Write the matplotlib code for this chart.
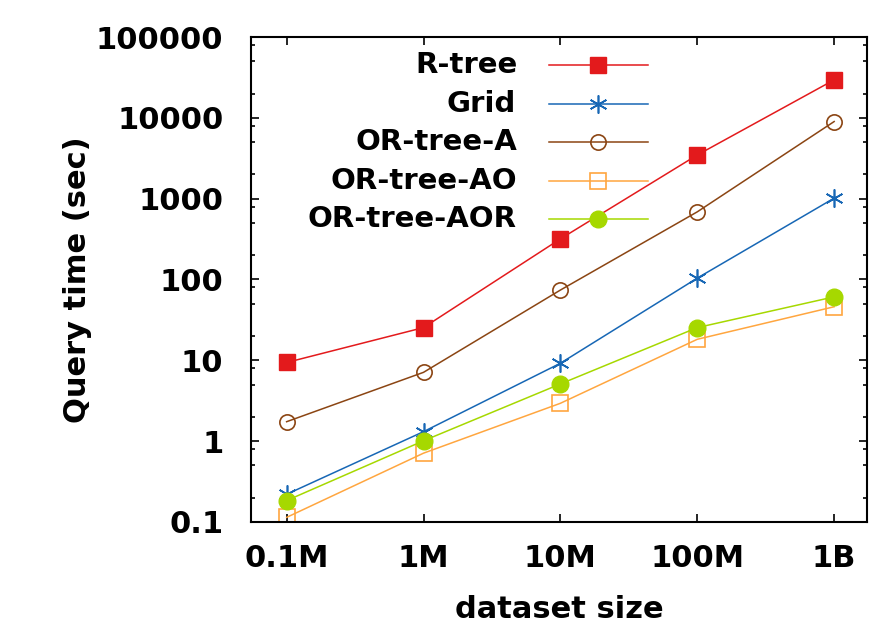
import matplotlib
matplotlib.use("Agg")
import matplotlib.pyplot as plt
from matplotlib.ticker import LogLocator, NullFormatter, FixedLocator
import numpy as np

plt.rcParams['font.family'] = ['DejaVu Sans']
plt.rcParams['font.weight'] = 'bold'
plt.rcParams['axes.labelweight'] = 'bold'

sizes = ["0.1M", "1M", "10M", "100M", "1B"]
names = ["R-tree", "Grid", "OR-tree-A", "OR-tree-AO", "OR-tree-AOR"]
rtree = [9.4, 25.4, 318, 3470, 29500]
grid = [0.22, 1.31, 9.2, 104, 1015]
ortree_a = [1.74, 7.1, 74, 687, 9000]
ortree_ao = [0.114, 0.71, 2.94, 18.2, 46]
ortree_aor = [0.184, 1.01, 5.1, 25.4, 61]

x = np.arange(len(sizes))
FS = 22
LFS = 21

fig = plt.figure(figsize=(8.94, 6.35), dpi=100)
ax = fig.add_axes([0.2808, 0.178, 0.9698 - 0.2808, 0.9417 - 0.178])

ax.plot(x, rtree, color='#e31a1c', lw=1.1, marker='s', ms=11, mec='#e31a1c', label=names[0])
ax.plot(x, grid, color='#1767b5', lw=1.1, marker=(6, 2, 0), ms=13, mew=1.2, label=names[1])
ax.plot(x, ortree_a, color='#8b4513', lw=1.1, marker='o', ms=11, mfc='none', mew=1.2, label=names[2])
ax.plot(x, ortree_ao, color='#ffa63f', lw=1.1, marker='s', ms=11, mfc='none', mew=1.2, label=names[3])
ax.plot(x, ortree_aor, color='#a6d800', lw=1.1, marker='o', ms=12, label=names[4])

ax.set_yscale('log')
ax.set_ylim(0.1, 100000)
ax.set_xlim(-0.26, 4.24)
ax.set_xticks(x)
ax.set_xticklabels(sizes)
ax.yaxis.set_major_locator(FixedLocator([0.1, 1, 10, 100, 1000, 10000, 100000]))
ax.set_yticklabels(['0.1', '1', '10', '100', '1000', '10000', '100000'])
ax.yaxis.set_minor_locator(LogLocator(base=10, subs=[2, 5, 8]))
ax.yaxis.set_minor_formatter(NullFormatter())

for s in ax.spines.values():
    s.set_linewidth(1.5)
ax.tick_params(which='both', direction='in', top=True, right=True, width=1.2)
ax.tick_params(which='major', length=6, labelsize=FS)
ax.tick_params(axis='y', which='major', pad=20)
ax.tick_params(axis='x', which='major', pad=16)
ax.tick_params(which='minor', length=3)

ax.set_ylabel('Query time (sec)', fontsize=FS, fontweight='bold')
ax.yaxis.set_label_coords(-0.258, 0.5)
ax.set_xlabel('dataset size', fontsize=FS, fontweight='bold', va='top')
ax.xaxis.set_label_coords(0.5, -0.15)

# legend: handles on the right, labels right-aligned to the left of them
leg = ax.legend(loc='upper right', bbox_to_anchor=(0.6445, 0.966), frameon=False,
                markerfirst=False, handlelength=3.4, handletextpad=0,
                labelspacing=0.36, borderpad=0, borderaxespad=0,
                prop={'size': LFS, 'weight': 'bold'})
for t in leg.get_texts():
    t.set_alpha(0)
fig.canvas.draw()
for h, name in zip(leg.get_lines(), names):
    ax.annotate(name, xy=(0, 0.5), xycoords=h, xytext=(-17, 0),
                textcoords='offset points', ha='right', va='center',
                fontsize=LFS, fontweight='bold', annotation_clip=False)

fig.savefig('out.png', dpi=100)
